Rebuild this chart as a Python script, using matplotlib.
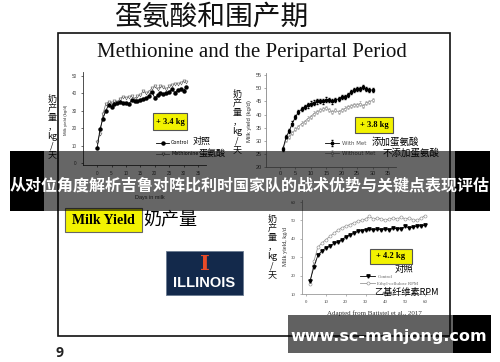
import matplotlib
matplotlib.use("Agg")
import matplotlib.pyplot as plt
from matplotlib.patches import Rectangle

CJK = ["Noto Sans CJK SC", "DejaVu Sans"]
SERIF = "Liberation Serif"
SANS = "Liberation Sans"

# ---- data ----
c1_days = list(range(0, 32))
c1_control = [8.5, 19.5, 25.5, 30.0, 33.5, 32.5, 34.0, 34.5, 35.0, 34.5,
              34.5, 34.0, 36.0, 35.5, 35.5, 36.5, 37.0, 37.5, 38.5, 41.0,
              37.5, 39.0, 40.0, 39.5, 40.5, 41.0, 42.5, 40.5, 42.0, 42.5,
              41.5, 43.5]
c1_met = [12.0, 17.0, 28.0, 34.0, 35.0, 34.5, 35.5, 35.0, 37.0, 38.0,
          37.5, 38.0, 38.5, 37.0, 38.5, 39.0, 41.5, 40.0, 41.0, 43.0,
          44.0, 42.5, 44.0, 43.5, 42.5, 44.0, 45.0, 45.5, 45.5, 46.0,
          47.0, 46.5]

c2_days = list(range(1, 31))
c2_with = [27.0, 31.5, 33.7, 36.6, 39.0, 41.0, 42.0, 43.0, 43.5, 44.2,
           44.6, 45.0, 45.2, 45.0, 45.7, 45.5, 45.0, 45.5, 46.0, 46.7,
           46.7, 47.4, 48.6, 49.2, 49.8, 49.8, 50.5, 49.6, 49.2, 49.4]
c2_without = [27.0, 30.3, 31.6, 32.9, 34.4, 35.4, 36.6, 37.3, 38.5, 39.2,
              40.4, 41.0, 41.7, 42.0, 42.6, 41.7, 41.0, 41.7, 41.0, 41.7,
              42.3, 43.0, 43.2, 43.8, 43.6, 44.2, 43.2, 44.5, 44.8, 45.5]

c3_days = list(range(2, 62, 2))
c3_control = [16.9, 24.7, 31.0, 33.5, 35.0, 36.0, 37.5, 38.0, 39.5, 41.0,
              42.0, 43.0, 44.0, 44.5, 45.0, 45.3, 44.6, 45.3, 45.0, 45.5,
              45.0, 45.9, 45.3, 45.5, 46.8, 46.0, 46.4, 46.8, 47.1, 47.3]
c3_rpm = [15.5, 27.8, 35.5, 37.7, 39.5, 41.3, 43.0, 44.6, 46.0, 46.8,
          47.7, 48.6, 49.5, 50.0, 50.8, 52.2, 50.8, 51.3, 50.8, 50.0,
          50.8, 51.3, 50.8, 51.8, 50.8, 51.3, 50.4, 50.0, 51.3, 52.6]

gains = ["+ 3.4 kg", "+ 3.8 kg", "+ 4.2 kg"]
ylabel_cn = "奶\n产\n量\n，\nkg\n/\n天"

W, H = 500, 362
fig = plt.figure(figsize=(W / 100, H / 100), dpi=100)
fig.patch.set_facecolor("white")


def fx(x):
    return x / W


def fy(y):
    return 1 - y / H


def axes_px(left, top, right, bottom):
    return fig.add_axes([fx(left), fy(bottom), (right - left) / W, (bottom - top) / H])


def style_axes(ax, size, color, family=SANS):
    for s in ("top", "right"):
        ax.spines[s].set_visible(False)
    for s in ("left", "bottom"):
        ax.spines[s].set_linewidth(0.6)
        ax.spines[s].set_color(color)
    ax.tick_params(labelsize=size, length=1.5, width=0.5, pad=1.5,
                   colors=color, labelcolor="#444444")
    for lbl in ax.get_xticklabels() + ax.get_yticklabels():
        lbl.set_family(family)
    ax.patch.set_alpha(0)


def gain_box(x0, y0, x1, y1, label, size):
    fig.add_artist(Rectangle((fx(x0), fy(y1)), (x1 - x0) / W, (y1 - y0) / H,
                             transform=fig.transFigure, facecolor="#f2f200",
                             edgecolor="#555555", lw=0.8, zorder=4))
    fig.text(fx((x0 + x1) / 2), fy((y0 + y1) / 2), label, ha="center", va="center",
             family=SERIF, fontweight="bold", fontsize=size, zorder=5)


# ---- slide frame and titles ----
fig.text(fx(211), fy(16), "蛋氨酸和围产期", family=CJK, fontsize=20,
         ha="center", va="center", color="#111111")
fig.add_artist(Rectangle((fx(58), fy(336)), (450 - 58) / W, (336 - 33) / H,
                         transform=fig.transFigure, fill=False,
                         edgecolor="#111111", lw=1.2))
fig.text(fx(252), fy(52), "Methionine and the Peripartal Period", family=SERIF,
         fontsize=15, ha="center", va="center", color="#111111")

# ---- chart 1 ----
ax1 = axes_px(83, 72, 206, 165)
ax1.plot(c1_days, c1_met, color="#777777", lw=0.6, marker="v", ms=2.2,
         mfc="white", mec="#555555", mew=0.4, label="Methionine")
ax1.plot(c1_days, c1_control, color="black", lw=0.6, marker="o", ms=2.2,
         label="Control")
ax1.set_xlim(-4.9, 37.8)
ax1.set_ylim(-1, 52.3)
ax1.set_xticks(range(0, 40, 5))
ax1.set_yticks(range(0, 60, 10))
style_axes(ax1, 3.3, "#333333")
ax1.tick_params(axis="y", pad=3)
ax1.tick_params(axis="x", pad=3)
h, l = ax1.get_legend_handles_labels()
ax1.legend(h[::-1], l[::-1], loc="upper left", bbox_to_anchor=(fx(154), fy(138)),
           bbox_transform=fig.transFigure, frameon=False, fontsize=3.5,
           handlelength=2.5, borderpad=0, labelspacing=1.2, handletextpad=0.5)
fig.text(fx(66), fy(120), "Milk yield (kg/d)", rotation=90, fontsize=3.2,
         family=SANS, ha="center", va="center", color="#333333")
fig.text(fx(150), fy(197), "Days in milk", fontsize=4, family=SANS,
         ha="center", va="center", color="#333333")
fig.text(fx(52), fy(127), ylabel_cn, family=CJK, fontsize=6.5, ha="center",
         va="center", linespacing=1.05, color="#111111")
gain_box(153, 113, 187, 130, gains[0], 6)
fig.text(fx(193), fy(141), "对照", family=CJK, fontsize=6.5, va="center")
fig.text(fx(199), fy(153), "蛋氨酸", family=CJK, fontsize=6.5, va="center")

# ---- chart 2 ----
ax2 = axes_px(266, 73, 396, 167.3)
ax2.errorbar(c2_days, c2_without, yerr=0.8, color="#999999", lw=0.6, marker="s",
             ms=1.8, mfc="white", mec="#888888", mew=0.4, capsize=0.8,
             elinewidth=0.4, label="Without Met")
ax2.errorbar(c2_days, c2_with, yerr=0.8, color="black", lw=0.6, marker="s",
             ms=1.8, capsize=0.8, elinewidth=0.4, label="With Met")
ax2.set_xlim(-4.5, 37.6)
ax2.set_ylim(20, 55.8)
ax2.set_xticks(range(0, 40, 5))
ax2.set_yticks(range(20, 60, 5))
style_axes(ax2, 4, "#888888")
h, l = ax2.get_legend_handles_labels()
ax2.legend(h[::-1], l[::-1], loc="upper left", bbox_to_anchor=(fx(322), fy(138)),
           bbox_transform=fig.transFigure, frameon=False, fontsize=4,
           handlelength=2.5, borderpad=0, labelspacing=0.9, handletextpad=0.6,
           labelcolor="#555555")
fig.text(fx(250), fy(121), "Milk yield (kg/d)", rotation=90, fontsize=4.3,
         family=SANS, ha="center", va="center", color="#333333")
fig.text(fx(237), fy(122), ylabel_cn, family=CJK, fontsize=6.5, ha="center",
         va="center", linespacing=1.05, color="#111111")
gain_box(355, 117, 393, 133, gains[1], 6)
fig.text(fx(372), fy(142), "添加蛋氨酸", family=CJK, fontsize=6.8, va="center")
fig.text(fx(383), fy(153), "不添加蛋氨酸", family=CJK, fontsize=6.8, va="center")

# ---- chart 3 ----
ax3 = axes_px(302, 200, 430, 294)
ax3.plot(c3_days, c3_rpm, color="#999999", lw=0.6, marker="o", ms=2.2,
         mfc="white", mec="#888888", mew=0.4, label="Ethyl-cellulose RPM")
ax3.plot(c3_days, c3_control, color="black", lw=0.6, marker="v", ms=2.4,
         label="Control")
ax3.set_xlim(-2.0, 62.5)
ax3.set_ylim(10, 61.1)
ax3.set_xticks(range(0, 70, 10))
ax3.set_yticks(range(10, 70, 10))
style_axes(ax3, 3.5, "#999999", family=SERIF)
ax3.tick_params(pad=3)
h, l = ax3.get_legend_handles_labels()
ax3.legend(h[::-1], l[::-1], loc="upper left", bbox_to_anchor=(fx(358), fy(272)),
           bbox_transform=fig.transFigure, frameon=False,
           handlelength=3, borderpad=0, labelspacing=0.6, handletextpad=0.5,
           labelcolor="#666666", prop={"family": SERIF, "size": 3.5})
fig.text(fx(285), fy(247), "Milk yield, kg/d", rotation=90, fontsize=4.2,
         family=SERIF, ha="center", va="center", color="#222222")
fig.text(fx(272), fy(247), ylabel_cn, family=CJK, fontsize=6.5, ha="center",
         va="center", linespacing=1.05, color="#111111")
gain_box(370, 249, 412, 264, gains[2], 6.2)
fig.text(fx(395), fy(269), "对照", family=CJK, fontsize=6.8, va="center")
fig.text(fx(374), fy(292), "乙基纤维素RPM", family=CJK, fontsize=6.6, va="center")
fig.text(fx(374), fy(313), "Adapted from Batistel et al., 2017", family=SERIF,
         fontsize=5, ha="center", va="center", color="#333333")

# ---- lower left block ----
fig.add_artist(Rectangle((fx(65), fy(232)), 77 / W, 24 / H, transform=fig.transFigure,
                         facecolor="#f2f200", edgecolor="#666666", lw=0.8))
fig.text(fx(103.5), fy(220), "Milk Yield", family=SERIF, fontweight="bold",
         fontsize=10, ha="center", va="center")
fig.text(fx(143), fy(219), "奶产量", family=CJK, fontsize=13, va="center")
fig.add_artist(Rectangle((fx(166), fy(295)), 77 / W, 44 / H, transform=fig.transFigure,
                         facecolor="#13294b", edgecolor="#6a7a90", lw=0.6))
fig.text(fx(204.5), fy(264), "I", family="DejaVu Serif", fontweight="bold",
         fontsize=15, color="#e84a27", ha="center", va="center")
fig.text(fx(204.5), fy(283), "ILLINOIS", family=SANS, fontweight="bold",
         fontsize=10.5, color="white", ha="center", va="center")
fig.text(fx(60), fy(353), "9", family="Open Sans", fontweight="bold", fontsize=10,
         color="#222222", ha="center", va="center")


# ---- overlay banners ----
def banner(x0, x1, y0, y1, alpha):
    fig.add_artist(Rectangle((fx(x0), fy(y1)), (x1 - x0) / W, (y1 - y0) / H,
                             transform=fig.transFigure, facecolor="black",
                             edgecolor="none", alpha=alpha, zorder=10))


banner(10, 44, 151, 211, 1.0)
banner(44, 455, 151, 211, 0.6)
banner(455, 490, 151, 211, 1.0)
fig.text(fx(250), fy(185), "从对位角度解析吉鲁对阵比利时国家队的战术优势与关键点表现评估",
         family=CJK, fontweight="bold", fontsize=11.5, color="white",
         ha="center", va="center", zorder=11)

banner(288, 453, 315, 353, 0.62)
banner(453, 491, 315, 353, 1.0)
fig.text(fx(389), fy(336), "www.sc-mahjong.com", family="DejaVu Sans",
         fontweight="bold", fontsize=11.5, color="white", ha="center",
         va="center", zorder=11)

fig.savefig("out.png", dpi=100)
